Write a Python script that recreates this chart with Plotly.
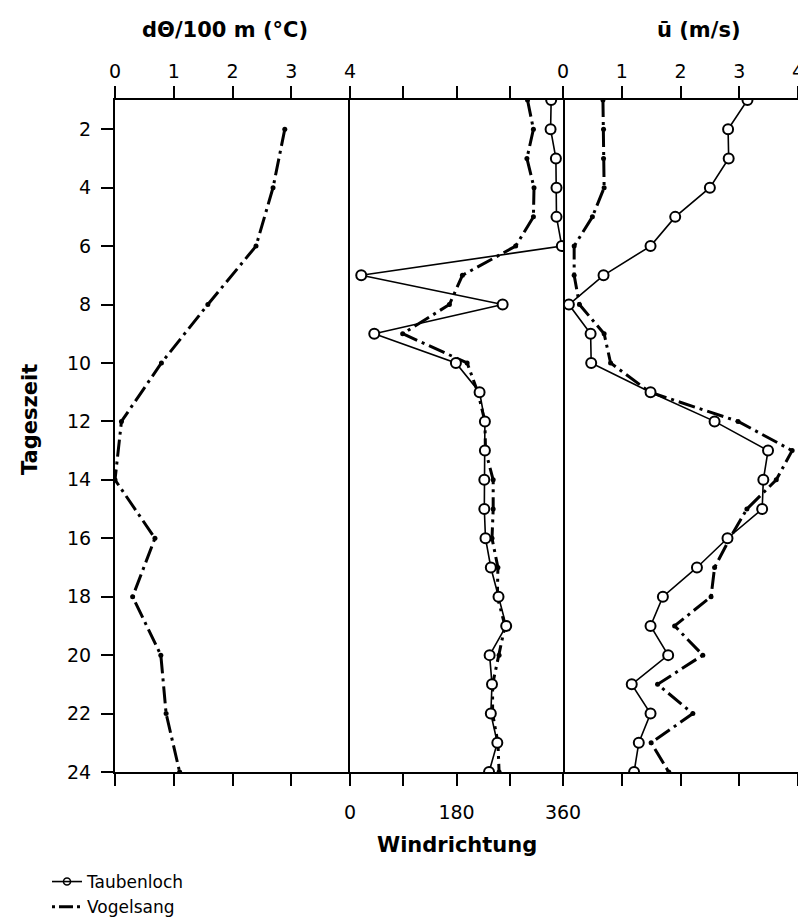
import plotly.graph_objects as go

# ---- data ----
hours = [1, 2, 3, 4, 5, 6, 7, 8, 9, 10, 11, 12,
         13, 14, 15, 16, 17, 18, 19, 20, 21, 22, 23, 24]
hours_theta = [2, 4, 6, 8, 10, 12, 14, 16, 18, 20, 22, 24]

# potential temperature gradient dTheta/100 m (deg C), Vogelsang
dtheta_vogelsang = [2.89, 2.69, 2.40, 1.58, 0.79, 0.11, 0.0, 0.68, 0.30, 0.78, 0.87, 1.10]

# wind direction (deg)
dir_taubenloch = [340, 339, 348, 349, 349, 358, 19, 258, 41, 179, 219, 228,
                  228, 227, 227, 229, 238, 251, 264, 236, 240, 238, 249, 235]
dir_vogelsang = [300, 310, 299, 311, 310, 280, 190, 168, 89, 198, 216, 228,
                 229, 242, 242, 240, 250, 249, 262, 252, 241, 241, 250, 252]

# mean wind speed u (m/s)
u_taubenloch = [3.14, 2.81, 2.82, 2.50, 1.91, 1.49, 0.69, 0.10, 0.47, 0.48, 1.49, 2.58,
                3.49, 3.41, 3.39, 2.80, 2.28, 1.70, 1.49, 1.79, 1.17, 1.49, 1.29, 1.21]
u_vogelsang = [0.68, 0.69, 0.69, 0.70, 0.50, 0.19, 0.19, 0.28, 0.70, 0.81, 1.48, 2.98,
               3.90, 3.63, 3.13, 2.84, 2.58, 2.52, 1.90, 2.38, 1.61, 2.21, 1.50, 1.80]

theta_ticks = [0, 1, 2, 3, 4]
dir_ticks = [0, 90, 180, 270, 360]
dir_ticktext = ["0", "", "180", "", "360"]
u_ticks = [0, 1, 2, 3, 4]
hour_ticks = [2, 4, 6, 8, 10, 12, 14, 16, 18, 20, 22, 24]

# ---- styles ----
FONT = "DejaVu Sans"
DASHDOT = "17px,5px,3px,5px"
vog_line = dict(color="black", width=3, dash=DASHDOT)
vog_marker = dict(color="black", size=5)
tau_line = dict(color="black", width=1.6)
tau_marker = dict(symbol="circle", size=10, color="white",
                  line=dict(color="black", width=2))

fig = go.Figure()

# left panel
fig.add_trace(go.Scatter(x=dtheta_vogelsang, y=hours_theta, mode="lines+markers",
                         line=vog_line, marker=vog_marker, xaxis="x", yaxis="y",
                         showlegend=False, name="Vogelsang"))
# middle panel
fig.add_trace(go.Scatter(x=dir_vogelsang, y=hours, mode="lines+markers",
                         line=vog_line, marker=vog_marker, xaxis="x2", yaxis="y2",
                         showlegend=False, name="Vogelsang"))
fig.add_trace(go.Scatter(x=dir_taubenloch, y=hours, mode="lines+markers",
                         line=tau_line, marker=tau_marker, xaxis="x2", yaxis="y2",
                         showlegend=False, name="Taubenloch"))
# right panel
fig.add_trace(go.Scatter(x=u_vogelsang, y=hours, mode="lines+markers",
                         line=vog_line, marker=vog_marker, xaxis="x3", yaxis="y3",
                         showlegend=False, name="Vogelsang"))
fig.add_trace(go.Scatter(x=u_taubenloch, y=hours, mode="lines+markers",
                         line=tau_line, marker=tau_marker, xaxis="x3", yaxis="y3",
                         showlegend=False, name="Taubenloch"))

# legend-only entries
fig.add_trace(go.Scatter(x=[None], y=[None], mode="lines+markers", name="Taubenloch",
                         line=dict(color="black", width=1.6),
                         marker=dict(symbol="circle-open", size=7, color="black",
                                     line=dict(width=1.6)),
                         xaxis="x", yaxis="y", showlegend=True))
fig.add_trace(go.Scatter(x=[None], y=[None], mode="lines", name="Vogelsang",
                         line=dict(color="black", width=3, dash="3px,4px,14px,4px"),
                         xaxis="x", yaxis="y", showlegend=True))

d1 = 235 / 683
d2 = 448 / 683

axis_common = dict(showline=True, linecolor="black", linewidth=2,
                   ticks="outside", ticklen=12, tickwidth=2, tickcolor="black",
                   showgrid=False, zeroline=False,
                   tickfont=dict(family=FONT, size=19, color="black"))


def px(xr):
    return (xr - 115) / 683


def py(yr):
    return (772 - yr) / 672


title_font = dict(family=FONT, size=21, color="black")

fig.update_layout(
    width=798, height=912,
    margin=dict(l=107, r=8, t=92, b=148, autoexpand=False),
    paper_bgcolor="white", plot_bgcolor="white",
    font=dict(family=FONT, color="black"),
    xaxis=dict(domain=[0, d1], range=[0, 4], side="top", anchor="y",
               tickvals=theta_ticks, mirror="ticks", **axis_common),
    xaxis2=dict(domain=[d1, d2], range=[0, 360], side="bottom", anchor="y2",
                tickvals=dir_ticks, ticktext=dir_ticktext, mirror="ticks",
                ticklabelstandoff=10, **axis_common),
    xaxis3=dict(domain=[d2, 1], range=[0, 4], side="top", anchor="y3",
                tickvals=u_ticks, mirror="ticks", **axis_common),
    yaxis=dict(domain=[0, 1], range=[24, 1], anchor="x", tickvals=hour_ticks,
               ticklabelstandoff=6, **axis_common),
    yaxis2=dict(domain=[0, 1], range=[24, 1], anchor="x2", matches="y",
                showline=True, linecolor="black", linewidth=2, mirror=True,
                ticks="", showticklabels=False, showgrid=False, zeroline=False),
    yaxis3=dict(domain=[0, 1], range=[24, 1], anchor="x3", matches="y", side="right",
                showline=True, linecolor="black", linewidth=2,
                ticks="outside", ticklen=8, tickwidth=2, tickcolor="black",
                tickvals=hour_ticks, showticklabels=False,
                showgrid=False, zeroline=False),
    legend=dict(x=px(47), y=py(864), xanchor="left", yanchor="top",
                font=dict(family=FONT, size=17, color="black"),
                bgcolor="rgba(0,0,0,0)", tracegroupgap=0, itemwidth=30),
    annotations=[
        dict(text="<b>dΘ/100 m (°C)</b>", x=px(225), y=py(30),
             xref="paper", yref="paper", showarrow=False,
             xanchor="center", yanchor="middle", font=title_font),
        dict(text="<b>ū (m/s)</b>", x=px(699), y=py(30),
             xref="paper", yref="paper", showarrow=False,
             xanchor="center", yanchor="middle", font=title_font),
        dict(text="<b>Tageszeit</b>", x=px(30), y=py(420),
             xref="paper", yref="paper", showarrow=False, textangle=-90,
             xanchor="center", yanchor="middle", font=title_font),
        dict(text="<b>Windrichtung</b>", x=180, y=py(845),
             xref="x2", yref="paper", showarrow=False,
             xanchor="center", yanchor="middle", font=title_font),
    ],
)

fig.write_html("out.html")
